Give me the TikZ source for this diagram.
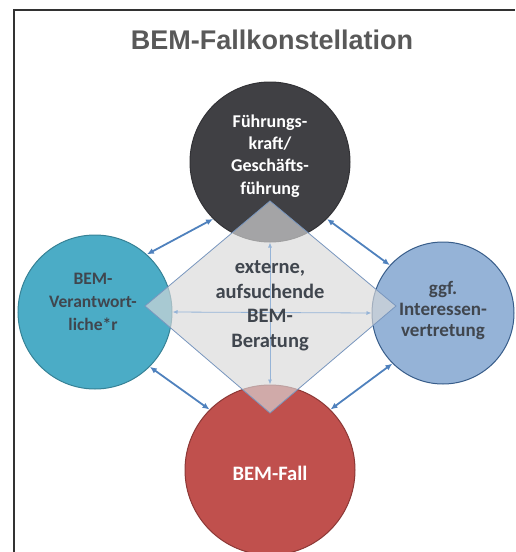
\documentclass[tikz,border=0pt]{standalone}
\usepackage{fontspec}
\setmainfont{Carlito}
\newfontfamily\headfont{Liberation Sans}
\usetikzlibrary{arrows.meta}

\definecolor{framegray}{RGB}{50,50,50}
\definecolor{titlegray}{RGB}{89,89,89}
\definecolor{fkfill}{RGB}{64,64,68}
\definecolor{fkline}{RGB}{50,50,54}
\definecolor{bvfill}{RGB}{75,172,198}
\definecolor{bvline}{RGB}{55,130,150}
\definecolor{ivfill}{RGB}{149,179,215}
\definecolor{ivline}{RGB}{56,93,138}
\definecolor{fallfill}{RGB}{192,80,77}
\definecolor{fallline}{RGB}{140,56,54}
\definecolor{rautefill}{RGB}{217,217,217}
\definecolor{rauteline}{RGB}{120,150,190}
\definecolor{linkblue}{RGB}{79,129,189}
\definecolor{innerblue}{RGB}{150,180,215}
\definecolor{darktext}{RGB}{64,70,78}

\tikzset{
  headline/.style={font=\headfont\bfseries\fontsize{27}{32}\selectfont, text=titlegray},
  person/.style={circle, line width=1pt, inner sep=0pt},
  wtext/.style={align=center, text=white, font=\bfseries\fontsize{18}{22.4}\selectfont},
  dtext/.style={align=center, text=darktext, font=\bfseries\fontsize{17.5}{23}\selectfont},
  ctext/.style={align=center, text=darktext, font=\bfseries\fontsize{20.5}{24.5}\selectfont},
  raute/.style={fill=rautefill, fill opacity=0.66, draw=rauteline, line width=0.8pt},
  link/.style={{Latex[length=7pt,width=6pt]}-{Latex[length=7pt,width=6pt]}, draw=linkblue, line width=1.8pt},
  inner/.style={{Latex[length=5pt,width=4pt]}-{Latex[length=5pt,width=4pt]}, draw=innerblue, line width=0.8pt}
}

\begin{document}
\begin{tikzpicture}[x=1pt,y=-1pt]
    \useasboundingbox (0,0) rectangle (515,552);

    % Frame and title
    \draw[framegray, line width=1.5pt] (14,552) -- (14,10) -- (515,10);
    \node[headline] (title) at (272,40) {BEM-Fallkonstellation};

    % Circles
    \node[person, fill=fkfill, draw=fkline, minimum size=160pt] (fk) at (270,162) {};
    \node[person, fill=bvfill, draw=bvline, minimum size=154pt] (bv) at (95,312) {};
    \node[person, fill=ivfill, draw=ivline, minimum size=142pt] (iv) at (443,313) {};
    \node[person, fill=fallfill, draw=fallline, minimum size=170pt] (fall) at (270,470) {};

    % Diamond in the middle
    \coordinate (dtop) at (270,201);
    \coordinate (dright) at (396,306);
    \coordinate (dbottom) at (270,413);
    \coordinate (dleft) at (145,306);
    \draw[raute] (dtop) -- (dright) -- (dbottom) -- (dleft) -- cycle;

    % Arrows through the diamond
    \draw[inner] (fk.south) -- (fall.north);
    \draw[inner] (bv.east) -- (iv.west);

    % Arrows between the circles
    \draw[link] (bv.48) -- (fk.225);
    \draw[link] (fk.-45) -- (iv.138);
    \draw[link] (bv.-45) -- (fall.135);
    \draw[link] (fall.45) -- (iv.225);

    % Labels
    \node[wtext] (fktext) at (270,156) {Führungs-\\kraft/\\Geschäfts-\\führung};
    \node[dtext] (bvtext) at (93,302) {BEM-\\Verantwort-\\liche*r};
    \node[dtext, font=\bfseries\fontsize{19}{21}\selectfont] (ivtext) at (443,311) {ggf.\\Interessen-\\vertretung};
    \node[wtext, font=\bfseries\fontsize{20.5}{24}\selectfont] (falltext) at (270,473) {BEM-Fall};
    \node[ctext] (beratung) at (270,306) {externe,\\aufsuchende\\BEM-\\Beratung};
\end{tikzpicture}
\end{document}
